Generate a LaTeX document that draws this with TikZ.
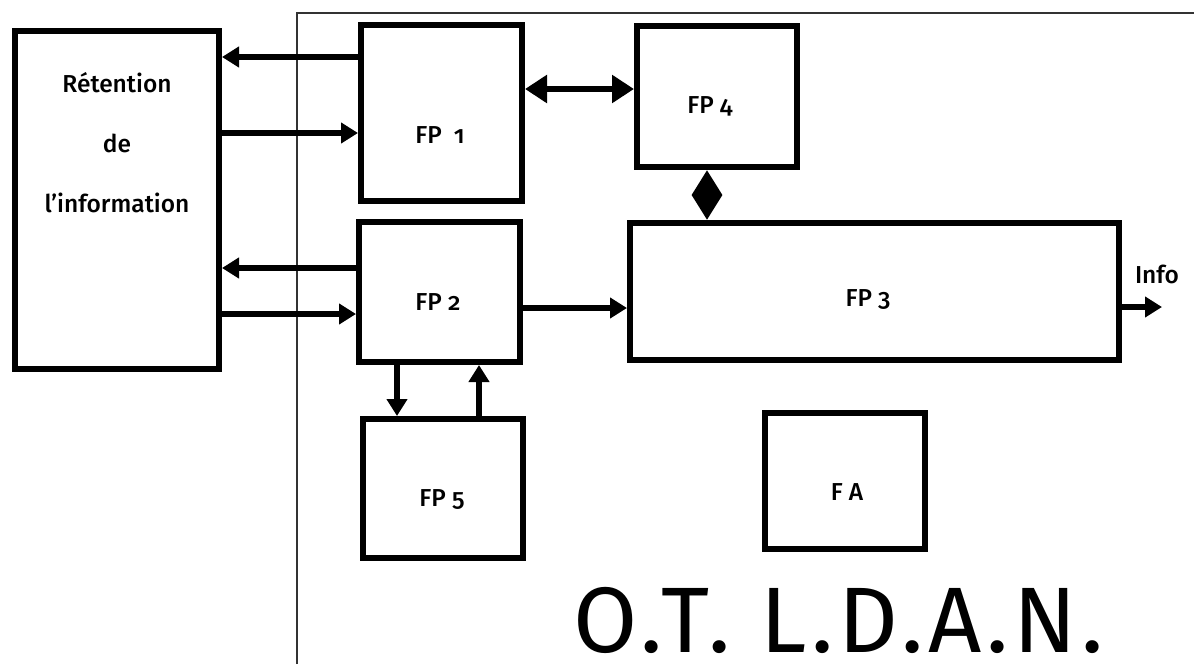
\documentclass[tikz,border=0pt]{standalone}
\usepackage{fontspec}
\setmainfont{Fira Sans}[Numbers=OldStyle,UprightFont={* Medium}]
\newfontfamily\titlefont{Fira Sans}[LetterSpace=5]
\usetikzlibrary{arrows.meta,calc}
\begin{document}
\begin{tikzpicture}[x=1pt,y=-1pt,
  box/.style={draw=black,line width=6pt,inner sep=0pt,fill=white},
  lbl/.style={font=\fontsize{24.5}{27}\selectfont,inner sep=0pt},
  arr/.style={line width=6pt,-{Triangle[length=17pt,width=20pt]}},
  darr/.style={line width=6pt,{Triangle[length=22pt,width=27pt]}-{Triangle[length=22pt,width=27pt]}},
  diam/.style={line width=6pt,{Triangle[length=25pt,width=29pt]}-{Triangle[length=25pt,width=29pt]}},
  frame/.style={line width=1.3pt,black!80}]
\useasboundingbox (0,0) rectangle (1194,664);
% outer frame
\coordinate (fa1) at (297,664);
\coordinate (fa2) at (297,13);
\coordinate (fa3) at (1194,13);
\draw[frame] (fa1) -- (fa2) -- (fa3);
% boxes
\node[box,minimum width=204pt,minimum height=338pt] (ret) at (117,200) {};
\node[box,minimum width=161pt,minimum height=176pt] (fp1) at (441.5,113) {};
\node[box,minimum width=160pt,minimum height=141pt] (fp4) at (717,96.5) {};
\node[box,minimum width=161pt,minimum height=140pt] (fp2) at (439.5,292) {};
\node[box,minimum width=489pt,minimum height=137pt] (fp3) at (874.5,291.5) {};
\node[box,minimum width=160pt,minimum height=139pt] (fp5) at (443,488.5) {};
\node[box,minimum width=160pt,minimum height=136pt] (fa) at (845,481) {};
% texts
\node[lbl] (t1) at (117,83) {Rétention};
\node[lbl] (t2) at (117,143) {de};
\node[lbl] (t3) at (117,203) {l’information};
\node[lbl] (l1) at (440,135) {FP~~1};
\node[lbl] (l4) at (710,106) {FP 4};
\node[lbl] (l2) at (438,302) {FP 2};
\node[lbl] (l3) at (868,300) {FP 3};
\node[lbl] (l5) at (442,500) {FP 5};
\node[lbl] (la) at (847,492) {F A};
\node[lbl,font=\fontsize{24.5}{27}\selectfont] (info) at (1157,274) {Info};
% helper coordinates
\coordinate (y57) at (0,57);
\coordinate (y133) at (0,133);
\coordinate (y89) at (0,89);
\coordinate (y268) at (0,268);
\coordinate (y314) at (0,314);
\coordinate (y308) at (0,308);
\coordinate (y307) at (0,307);
\coordinate (x707) at (707,0);
\coordinate (x397) at (397,0);
\coordinate (x479) at (479,0);
\coordinate (infoend) at (1162,307);
% connectors
\draw[arr] (y57 -| fp1.west) -- (y57 -| ret.east);
\draw[arr] (y133 -| ret.east) -- (y133 -| fp1.west);
\draw[darr] (y89 -| fp1.east) -- (y89 -| fp4.west);
\draw[diam] (x707 |- fp4.south) -- (x707 |- fp3.north);
\draw[arr] (y268 -| fp2.west) -- (y268 -| ret.east);
\draw[arr] (y314 -| ret.east) -- (y314 -| fp2.west);
\draw[arr] (y308 -| fp2.east) -- (y308 -| fp3.west);
\draw[arr] (x397 |- fp2.south) -- (x397 |- fp5.north);
\draw[arr] (x479 |- fp5.north) -- (x479 |- fp2.south);
\draw[arr] (y307 -| fp3.east) -- (infoend);
% title
\node[anchor=base west,inner sep=0pt,font=\titlefont\fontsize{93}{100}\selectfont] (title) at (573,652) {O.T. L.D.A.N.};
\end{tikzpicture}
\end{document}
